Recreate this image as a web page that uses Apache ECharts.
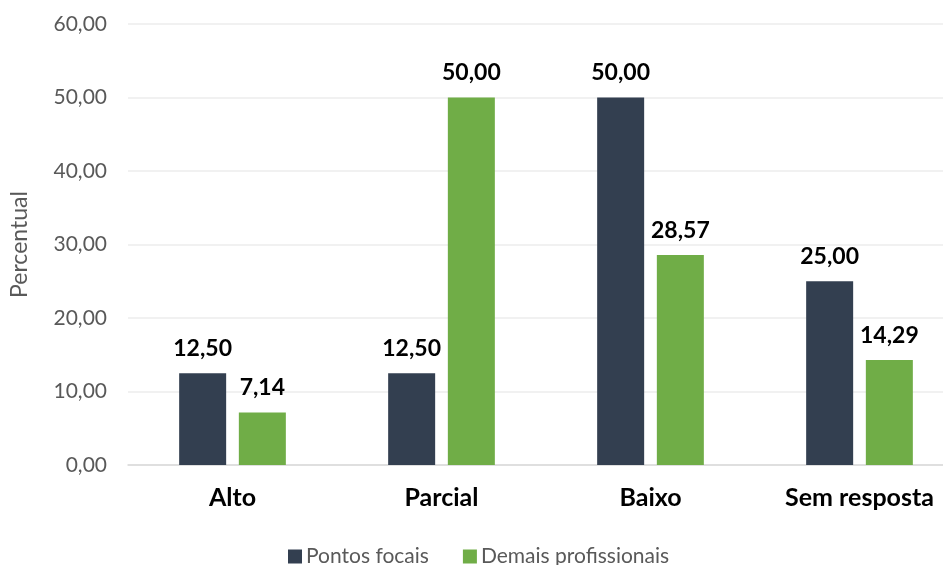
<!DOCTYPE html>
<html>
<head>
<meta charset="utf-8">
<script src="https://cdn.jsdelivr.net/npm/echarts@6/dist/echarts.min.js"></script>
<style>
  html, body { margin: 0; padding: 0; background: #ffffff; overflow: hidden; }
  /* the canvas is a little wider than the window: the plot runs past the right edge */
  #chart { width: 965px; height: 565px; }
</style>
</head>
<body>
<div id="chart"></div>
<script>
// Categorias e valores (%)
const categories = ['Alto', 'Parcial', 'Baixo', 'Sem resposta'];
const pontosFocais = [12.50, 12.50, 50.00, 25.00];
const demaisProfissionais = [7.14, 50.00, 28.57, 14.29];
const seriesNames = ['Pontos focais', 'Demais profissionais'];

const FONT = 'Lato, "Open Sans", sans-serif';
const fmt = v => v.toFixed(2).replace('.', ',');

const chart = echarts.init(document.getElementById('chart'), null, { renderer: 'canvas' });

const labelStyle = {
  show: true,
  position: 'top',
  distance: 13,
  fontFamily: FONT,
  fontSize: 23,
  fontWeight: 'bold',
  color: '#000000',
  formatter: p => fmt(p.value)
};

chart.setOption({
  animation: false,
  backgroundColor: '#ffffff',
  grid: { left: 119, right: 1, top: 24, bottom: 100, containLabel: false },
  legend: {
    data: seriesNames,
    left: 283,
    top: 541,
    itemWidth: 14,
    itemHeight: 14,
    itemGap: 34,
    icon: 'rect',
    textStyle: { fontFamily: FONT, fontSize: 21, color: '#595959', padding: [0, 0, 0, -1] }
  },
  xAxis: {
    type: 'category',
    data: categories,
    axisLine: { lineStyle: { color: '#d9d9d9', width: 1.5 } },
    axisTick: { show: false },
    axisLabel: { fontFamily: FONT, fontSize: 25, fontWeight: 'bold', color: '#000000', margin: 20 }
  },
  yAxis: {
    type: 'value',
    min: 0,
    max: 60,
    interval: 10,
    name: 'Percentual',
    nameLocation: 'middle',
    nameGap: 97,
    nameRotate: 90,
    nameTextStyle: { fontFamily: FONT, fontSize: 23, color: '#595959' },
    axisLine: { show: false },
    axisTick: { show: false },
    splitLine: { lineStyle: { color: '#ececec', width: 1.5 } },
    axisLabel: { fontFamily: FONT, fontSize: 21, color: '#595959', margin: 21, formatter: v => fmt(v) }
  },
  series: [
    {
      name: seriesNames[0],
      type: 'bar',
      data: pontosFocais,
      barWidth: 47,
      barGap: '27%',
      itemStyle: { color: '#333f50' },
      label: labelStyle
    },
    {
      name: seriesNames[1],
      type: 'bar',
      data: demaisProfissionais,
      barWidth: 47,
      barGap: '27%',
      itemStyle: { color: '#70ad47' },
      label: labelStyle
    }
  ]
});
</script>
</body>
</html>
